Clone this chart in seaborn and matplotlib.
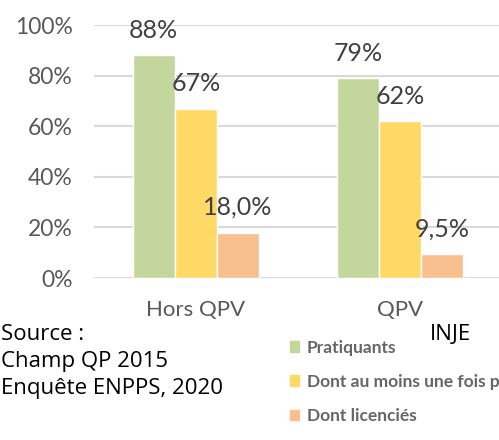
import pandas as pd
import matplotlib.pyplot as plt
import seaborn as sns

# Data
groups = ["Hors QPV", "QPV"]
series = ["Pratiquants", "Dont au moins une fois par semaine", "Dont licenciés"]
pratiquants = [0.88, 0.79]
une_fois = [0.67, 0.62]
licencies = [0.18, 0.095]
bar_labels = [["88%", "79%"], ["67%", "62%"], ["18,0%", "9,5%"]]
yticks = [0, 0.2, 0.4, 0.6, 0.8, 1.0]
ytick_labels = ["0%", "20%", "40%", "60%", "80%", "100%"]
colors = ["#C3D69B", "#FFD966", "#F8BF8F"]
source_lines = ["Source :", "Champ QP 2015", "Enquête ENPPS, 2020"]

df = pd.DataFrame({
    "groupe": groups * 3,
    "serie": [s for s in series for _ in groups],
    "valeur": pratiquants + une_fois + licencies,
})

sns.set_style("white")
plt.rcParams["font.family"] = ["Lato", "DejaVu Sans"]

fig = plt.figure(figsize=(4.99, 4.40), dpi=100)
ax = fig.add_axes([0.188, 0.368, 0.812, 0.575])

sns.barplot(data=df, x="groupe", y="valeur", hue="serie", order=groups,
            hue_order=series, palette=colors, width=0.62, saturation=1,
            errorbar=None, ax=ax, zorder=3)

# Data labels above bars
for cont, labs in zip(ax.containers, bar_labels):
    for bar, lab in zip(cont, labs):
        ax.annotate(lab, (bar.get_x() + bar.get_width() / 2, bar.get_height()),
                    xytext=(0, 18), textcoords="offset points",
                    ha="center", va="center", fontsize=18, color="#404040")

ax.set_ylim(0, 1.0)
ax.set_xlim(-0.5, 1.485)
ax.set_yticks(yticks)
ax.set_yticklabels(ytick_labels, fontsize=16.5, color="#595959")
ax.tick_params(axis="y", length=0, pad=15)
ax.tick_params(axis="x", length=0, pad=15.5, labelsize=16, labelcolor="#595959")
ax.set_xlabel("")
ax.set_ylabel("")
ax.grid(axis="y", color="#D9D9D9", linewidth=1.5, zorder=0)
ax.set_axisbelow(True)
for s in ax.spines.values():
    s.set_visible(False)
ax.get_legend().remove()

# Source text
src_font = ["Open Sans", "DejaVu Sans"]
for i, line in enumerate(source_lines):
    fig.text(0.002, 1 - (334 + 27 * i) / 440, line, fontsize=16, color="black",
             va="center", family=src_font)
fig.text(430 / 499, 1 - 334 / 440, "INJE", fontsize=16, color="black",
         va="center", family=src_font)

# Legend
handles = [plt.Rectangle((0, 0), 1, 1, color=c) for c in colors]
fig.legend(handles, series, loc="upper left",
           bbox_to_anchor=(274 / 499, 1 - 324 / 440), frameon=False,
           labelcolor="#666666", handlelength=0.55, handleheight=0.55,
           handletextpad=0.45, labelspacing=1.05,
           prop={"weight": "bold", "size": 12.5})

fig.savefig("out.png", dpi=100)
